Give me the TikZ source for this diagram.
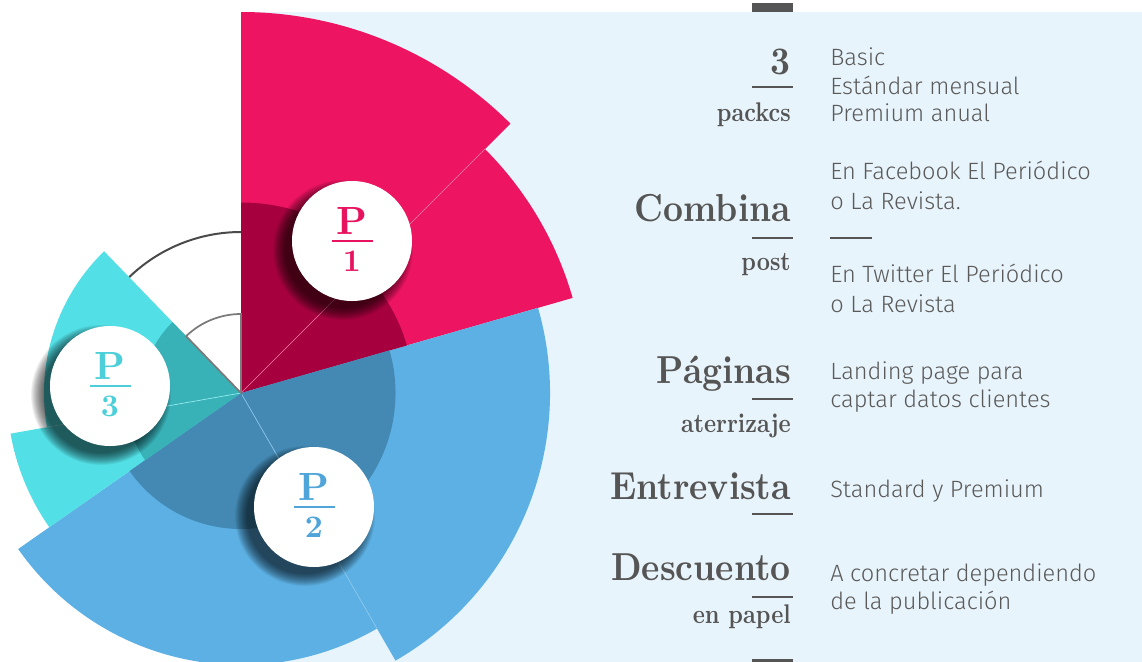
\documentclass[tikz,border=0pt]{standalone}
\usepackage{fontspec}
\usepackage{graphicx}
\newfontfamily\serifbold{lmroman10-bold.otf}
\newfontfamily\bodyfont{Fira Sans Light}
\usetikzlibrary{calc}
\definecolor{pinkA}{HTML}{ED1461}
\definecolor{pinkD}{HTML}{A6003F}
\definecolor{blueA}{HTML}{5CB0E3}
\definecolor{blueD}{HTML}{4489B4}
\definecolor{cyanA}{HTML}{52DFE5}
\definecolor{cyanD}{HTML}{38B1B7}
\definecolor{bgblue}{HTML}{E8F4FB}
\definecolor{headgray}{HTML}{555555}
\definecolor{bodygray}{HTML}{5A5A5A}
\definecolor{arcgrayA}{HTML}{4A4A4A}
\definecolor{arcgrayB}{HTML}{7A7A7A}
\definecolor{ptextA}{HTML}{E8135F}
\definecolor{ptextB}{HTML}{4FA5DA}
\definecolor{ptextC}{HTML}{4CCFD9}
\newcommand\myhead{\fontsize{29.25}{30}\selectfont\serifbold}
\newcommand\mysub{\fontsize{20.25}{22}\selectfont\serifbold}
\newcommand\mybody{\fontsize{17.7}{20}\selectfont\bodyfont}
\newcommand\hsq[1]{\scalebox{0.89}[1]{#1}}
\newcommand\ssq[1]{\scalebox{0.85}[1]{#1}}
\begin{document}
\begin{tikzpicture}[x=0.75pt,y=0.75pt,
  head/.style={anchor=base east, inner sep=0pt, text=headgray, font=\myhead},
  subhead/.style={anchor=base east, inner sep=0pt, text=headgray, font=\mysub},
  bodyline/.style={anchor=base west, inner sep=0pt, text=bodygray, font=\mybody},
  rulebar/.style={draw=headgray, line width=1.5pt},
  badge/.style={circle, fill=white, minimum size=90pt, inner sep=0pt},
  bigP/.style={anchor=base, inner sep=0pt, font=\fontsize{29.5}{30}\selectfont\serifbold},
  bignum/.style={anchor=base, inner sep=0pt, font=\fontsize{23.5}{25}\selectfont\serifbold},
  divline/.style={line width=0.5pt}
]
\useasboundingbox (0,0) rectangle (1142,-661);
\fill[bgblue] (241,-12) rectangle (1142,-670);

\begin{scope}[shift={(241,-393)}]
  % gray arcs
  \draw[arcgrayA, line width=1.5pt] (90:161) arc[start angle=90, end angle=134, radius=161];
  % outer wedges
  \fill[pinkA] (0,0) -- (45:381) arc[start angle=45, end angle=90, radius=381] -- cycle;
  \fill[pinkA] (0,0) -- (16:345) arc[start angle=16, end angle=45, radius=345] -- cycle;
  \fill[blueA] (0,0) -- (-60:309) arc[start angle=-60, end angle=16, radius=309] -- cycle;
  \fill[blueA] (0,0) -- (-145:272) arc[start angle=-145, end angle=-60, radius=272] -- cycle;
  \fill[cyanA] (0,0) -- (190:234) arc[start angle=190, end angle=215, radius=234] -- cycle;
  \fill[cyanA] (0,0) -- (134:197) arc[start angle=134, end angle=190, radius=197] -- cycle;
  % inner darker sectors
  \fill[pinkD] (0,0) -- (45:190.5) arc[start angle=45, end angle=90, radius=190.5] -- cycle;
  \fill[pinkD] (0,0) -- (16:172.5) arc[start angle=16, end angle=45, radius=172.5] -- cycle;
  \fill[blueD] (0,0) -- (-60:154.5) arc[start angle=-60, end angle=16, radius=154.5] -- cycle;
  \fill[blueD] (0,0) -- (-145:136) arc[start angle=-145, end angle=-60, radius=136] -- cycle;
  \fill[cyanD] (0,0) -- (190:117) arc[start angle=190, end angle=215, radius=117] -- cycle;
  \fill[cyanD] (0,0) -- (134:98.5) arc[start angle=134, end angle=190, radius=98.5] -- cycle;
  % divider lines
  \draw[divline, pinkA!55!white] (0,0) -- (45:345);
  \draw[divline, blueA!70!white] (0,0) -- (-60:272);
  \draw[divline, cyanA!60!white] (0,0) -- (190:197);
  % inner gray sector outline
  \draw[arcgrayB, line width=1.3pt] (0,0) -- (90:79) arc[start angle=90, end angle=134, radius=79] -- cycle;
\end{scope}

% badges
\coordinate (c1) at (352,-241);
\coordinate (c2) at (314,-507);
\coordinate (c3) at (110,-386);
\foreach \cc in {c1,c2,c3}{
  \foreach \i in {0,...,15}
    \fill[black, opacity=0.05] ($(\cc)+(-9,-9)$) circle[radius={70-0.8*\i}];
}
\node[badge] (p1) at (c1) {};
\node[badge] (p2) at (c2) {};
\node[badge] (p3) at (c3) {};
\foreach \cc/\col/\num in {c1/ptextA/1, c2/ptextB/2, c3/ptextC/3}{
  \node[bigP, text=\col] (P\num) at ($(\cc)+(0,6.7)$) {P};
  \draw[\col, line width=1.6pt] ($(\cc)+(-20.5,0)$) -- ($(\cc)+(20.5,0)$);
  \node[bignum, text=\col] (N\num) at ($(\cc)+(0,-30.7)$) {\num};
}

% bars and rules
\fill[headgray] (752,-3) rectangle (793,-12);
\fill[headgray] (752,-659) rectangle (793,-668);
\draw[rulebar] (752,-87) -- (793,-87);
\draw[rulebar] (752,-237.5) -- (793,-237.5);
\draw[rulebar] (830,-237.5) -- (872,-237.5);
\draw[rulebar] (752,-399.3) -- (793,-399.3);
\draw[rulebar] (752,-514.3) -- (793,-514.3);
\draw[rulebar] (752,-596.7) -- (793,-596.7);

% headings
\node[head] (h1) at (791,-74) {\hsq{3}};
\node[head] (h2) at (791,-221.7) {\hsq{Combina}};
\node[head] (h3) at (791,-383.3) {\hsq{Páginas}};
\node[head] (h4) at (791,-499.3) {\hsq{Entrevista}};
\node[head] (h5) at (791,-580.7) {\hsq{Descuento}};
\node[subhead] (s1) at (791,-121.7) {\ssq{packcs}};
\node[subhead] (s2) at (791,-270.7) {\ssq{post}};
\node[subhead] (s3) at (791,-432.3) {\ssq{aterrizaje}};
\node[subhead] (s5) at (791,-623.3) {\ssq{en papel}};

% body text
\node[bodyline] (b1) at (830,-65) {Basic};
\node[bodyline] (b2) at (830,-94) {Estándar mensual};
\node[bodyline] (b3) at (830,-121.7) {Premium anual};
\node[bodyline] (b4) at (830,-179.3) {En Facebook El Periódico};
\node[bodyline] (b5) at (830,-209) {o La Revista.};
\node[bodyline] (b6) at (830,-282) {En Twitter El Periódico};
\node[bodyline] (b7) at (830,-312.7) {o La Revista};
\node[bodyline] (b8) at (830,-379) {Landing page para};
\node[bodyline] (b9) at (830,-407) {captar datos clientes};
\node[bodyline] (b10) at (830,-497.7) {Standard y Premium};
\node[bodyline] (b11) at (830,-581) {A concretar dependiendo};
\node[bodyline] (b12) at (830,-609) {de la publicación};
\end{tikzpicture}
\end{document}
